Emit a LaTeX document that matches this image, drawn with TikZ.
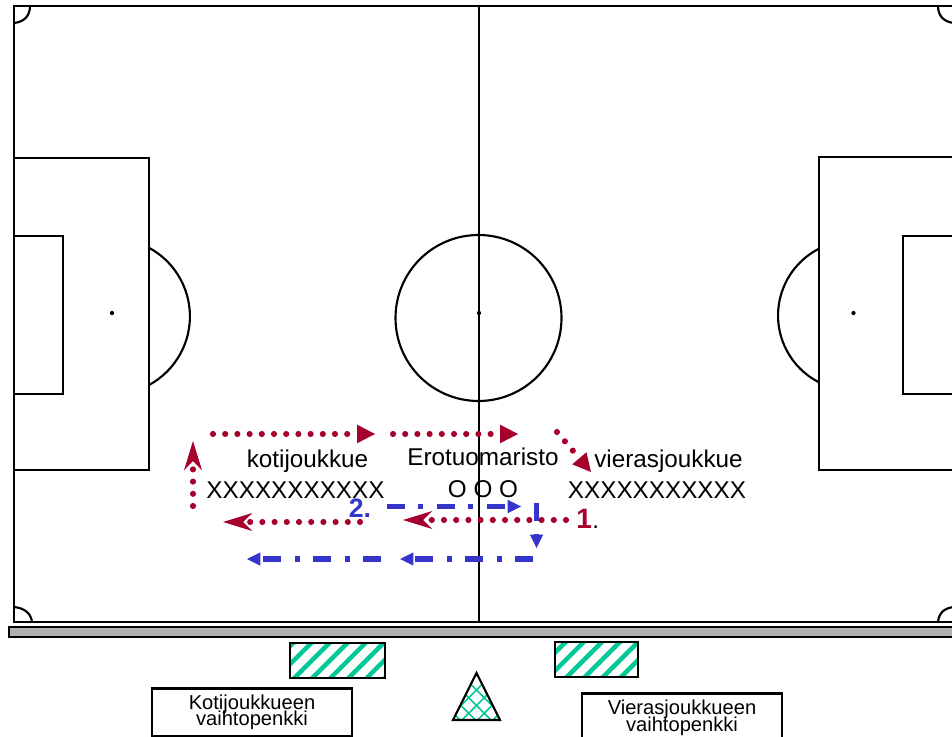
\documentclass[tikz,border=0pt]{standalone}
\usepackage{fontspec}
\setmainfont{Liberation Sans}
\usetikzlibrary{arrows.meta,patterns.meta}
\lineskiplimit=-20pt
\normallineskiplimit=-20pt
\definecolor{redarrow}{HTML}{A6002C}
\definecolor{bluearrow}{HTML}{3535CC}
\definecolor{hatchgreen}{HTML}{00C896}
\definecolor{bargray}{HTML}{B0B0B0}
\tikzset{
  fieldline/.style={draw=black,line width=1.6pt},
  spotdot/.style={circle,fill=black,inner sep=0pt,minimum size=3.2pt},
  teamlabel/.style={anchor=base,inner sep=0pt,font=\fontsize{18.2}{20}\selectfont},
  benchbox/.style={draw=black,line width=1.6pt,fill=white,minimum width=150pt,align=center,inner sep=0pt,font=\fontsize{15.1}{12.4}\selectfont},
  reddots/.style={draw=redarrow,line width=4.6pt,line cap=round,dash pattern=on 0pt off 9.15pt},
  bluedash/.style={draw=bluearrow,line width=3.9pt,dash pattern=on 13.5pt off 9.75pt on 3.75pt off 10.5pt},
  redtri/.style={-{Triangle[length=13.5pt,width=14pt,line width=0pt,fill=redarrow]}},
  redstealth/.style={-{Stealth[length=22pt,width=13.5pt,inset=7pt,line width=0pt,fill=redarrow]}},
  bluetri/.style={-{Triangle[length=10pt,width=10pt,line width=0pt,fill=bluearrow]}},
  stripes/.style={pattern={Lines[angle=45,distance=9.6pt,line width=3.4pt]},pattern color=hatchgreen},
}
\begin{document}
\begin{tikzpicture}[x=0.75pt,y=-0.75pt]
\useasboundingbox (0,0) rectangle (952,737);
\clip (0,0) rectangle (952,737);
% pitch
\draw[fieldline] (970,6) -- (14,6) -- (14,622) -- (970,622);
\draw[fieldline] (479,6) -- (479,622);
\draw[fieldline] (478.5,318) circle (83);
\draw[fieldline] (14,158) -- (149,158) -- (149,470) -- (14,470);
\draw[fieldline] (14,236) -- (63,236) -- (63,394) -- (14,394);
\draw[fieldline] (149,247.8) arc[start angle=-61.6,end angle=61.6,radius=78];
\draw[fieldline] (970,157) -- (819,157) -- (819,470) -- (970,470);
\draw[fieldline] (970,236) -- (903,236) -- (903,394) -- (970,394);
\draw[fieldline] (819,248.7) arc[start angle=-117,end angle=-243,radius=75];
\node[spotdot] (spotc) at (479,313) {};
\node[spotdot] (spotl) at (112,313) {};
\node[spotdot] (spotr) at (853.5,313) {};
% corners
\draw[fieldline] (30,6) .. controls (30,16) and (24,22) .. (14,23);
\draw[fieldline] (954,23) .. controls (944,22) and (938,16) .. (938,6);
\draw[fieldline] (14,607) .. controls (24,608) and (31,613) .. (32,622);
\draw[fieldline] (938,622) .. controls (939,613) and (944,608) .. (954,607);
% touchline bar
\draw[line width=1.6pt,fill=bargray] (9,627) rectangle (970,637);
% benches
\draw[line width=1.6pt,stripes] (290,643) rectangle (385,678);
\draw[line width=1.6pt,stripes] (555,642) rectangle (638,677);
\fill[white] (476.5,673) -- (500,720) -- (453,720) -- cycle;
\begin{scope}
\clip (476.5,673) -- (500,720) -- (453,720) -- cycle;
\foreach \k in {-6,...,6}{
  \draw[hatchgreen,line width=1.1pt] ({476.5+\k*15.5-50},{690-50}) -- ({476.5+\k*15.5+50},{690+50});
  \draw[hatchgreen,line width=1.1pt] ({476.5+\k*15.5+50},{690-50}) -- ({476.5+\k*15.5-50},{690+50});
}
\end{scope}
\draw[line width=1.6pt,line join=miter] (476.5,673) -- (500,720) -- (453,720) -- cycle;
\node[benchbox,minimum height=36pt] (homebench) at (252,712.5) {Kotijoukkueen\\vaihtopenkki};
\node[benchbox,minimum height=36.75pt] (awaybench) at (682,718) {Vierasjoukkueen\\vaihtopenkki};
% labels
\node[teamlabel] (home) at (307.5,467) {kotijoukkue};
\node[teamlabel] (homex) at (295.5,498) {XXXXXXXXXXX};
\node[teamlabel] (ref) at (483,465) {Erotuomaristo};
\node[teamlabel] (refo) at (483,497) {O O O};
\node[teamlabel] (away) at (668.5,467) {vierasjoukkue};
\node[teamlabel] (awayx) at (657,498) {XXXXXXXXXXX};
% arrow ends
\coordinate (r1a) at (213,434); \coordinate (r1b) at (375,434);
\coordinate (r2a) at (393,434); \coordinate (r2b) at (518,434);
\coordinate (r3a) at (557,432); \coordinate (r3b) at (591,472);
\coordinate (r4a) at (193,506); \coordinate (r4b) at (193,441);
\coordinate (r5a) at (360,522); \coordinate (r5b) at (223,522);
\coordinate (r6a) at (566,520); \coordinate (r6b) at (403,520);
\coordinate (b1a) at (387,506.5); \coordinate (b1b) at (521,506.5);
\coordinate (b2a) at (536.5,503); \coordinate (b2b) at (536.5,548);
\coordinate (b3a) at (533,559); \coordinate (b3b) at (400,559);
\coordinate (b4a) at (381,559); \coordinate (b4b) at (247,559);
\draw[reddots,redtri] (r1a) -- (r1b);
\draw[reddots,redtri] (r2a) -- (r2b);
\draw[reddots,redtri] (r3a) -- (r3b);
\draw[reddots,redstealth] (r4a) -- (r4b);
\draw[reddots,redstealth] (r5a) -- (r5b);
\draw[reddots,redstealth] (r6a) -- (r6b);
% blue arrows
\draw[bluedash,bluetri] (b1a) -- (b1b);
\draw[bluedash,bluetri] (b2a) -- (b2b);
\draw[bluedash,bluetri] (b3a) -- (b3b);
\draw[bluedash,bluetri] (b4a) -- (b4b);
% numbers
\node[anchor=base west,inner sep=0pt,font=\fontsize{20}{22}\selectfont\bfseries,text=bluearrow] (two) at (348.5,517) {2.};
\node[anchor=base west,inner sep=0pt,font=\fontsize{21}{22}\selectfont\bfseries,text=redarrow] (one) at (576,528) {1};
\node[anchor=base west,inner sep=0pt,font=\fontsize{18.2}{20}\selectfont] (onedot) at (592,528) {.};
\end{tikzpicture}
\end{document}
